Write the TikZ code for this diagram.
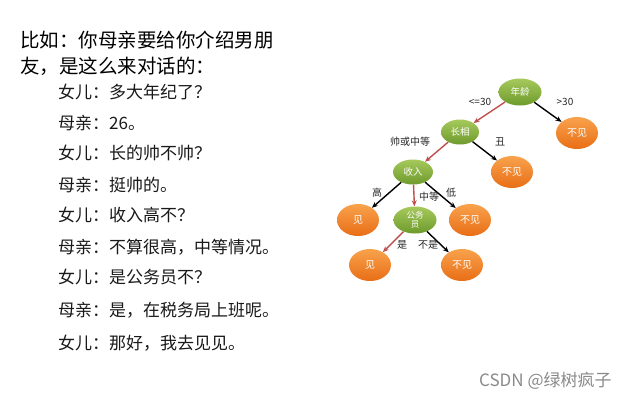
\documentclass[tikz,border=0pt]{standalone}
\usepackage{fontspec}
\setmainfont{Noto Sans CJK SC}
\newfontfamily\cjk{Noto Sans CJK SC}
\newfontfamily\latinsans{Liberation Sans}
\usetikzlibrary{shapes.geometric,arrows.meta}
\definecolor{gtop}{HTML}{A6C95C}
\definecolor{gbot}{HTML}{6E9A2C}
\definecolor{otop}{HTML}{F8A24C}
\definecolor{obot}{HTML}{E86E16}
\definecolor{redline}{HTML}{C0504D}
\definecolor{wm}{HTML}{8A8A8A}
\tikzset{
  gnode/.style={ellipse, top color=gtop, bottom color=gbot, draw=none, minimum width=41pt, minimum height=27pt, inner sep=0pt, text=white, font=\cjk\fontsize{9.5}{10}\selectfont, align=center},
  onode/.style={ellipse, top color=otop, bottom color=obot, draw=none, minimum width=42pt, minimum height=32pt, inner sep=0pt, text=white, font=\cjk\fontsize{10}{10}\selectfont},
  redarrow/.style={draw=redline, line width=1.4pt, -{Stealth[length=6pt,width=5pt]}},
  blkarrow/.style={draw=black, line width=1.4pt, -{Stealth[length=6pt,width=5pt]}},
  elabel/.style={font=\cjk\fontsize{10}{11}\selectfont, text=black!85, inner sep=0pt},
  title/.style={anchor=west, inner sep=0pt, font=\cjk\fontsize{19.5}{22}\selectfont},
  dialog/.style={anchor=west, inner sep=0pt, font=\cjk\fontsize{17}{19}\selectfont, text=black!90}
}
\begin{document}
\begin{tikzpicture}[x=1pt,y=-1pt]
\useasboundingbox (0,0) rectangle (631,400);
\fill[white] (0,0) rectangle (631,400);

% left text
\node[title] (t1) at (20,40) {比如：你母亲要给你介绍男朋};
\node[title] (t2) at (20,66) {友，是这么来对话的：};
\node[dialog] (d1) at (58,92) {女儿：多大年纪了？};
\node[dialog] (d2) at (58,123) {母亲：26。};
\node[dialog] (d3) at (58,153) {女儿：长的帅不帅？};
\node[dialog] (d4) at (58,185) {母亲：挺帅的。};
\node[dialog] (d5) at (58,215) {女儿：收入高不？};
\node[dialog] (d6) at (58,247) {母亲：不算很高，中等情况。};
\node[dialog] (d7) at (58,277) {女儿：是公务员不？};
\node[dialog] (d8) at (58,310) {母亲：是，在税务局上班呢。};
\node[dialog] (d9) at (58,343) {女儿：那好，我去见见。};

% tree nodes
\node[gnode, minimum width=43pt] (age) at (520,92) {年龄};
\node[onode] (no1) at (577,133) {不见};
\node[gnode, minimum width=38pt, minimum height=25pt] (look) at (460,132) {长相};
\node[onode] (no2) at (512,172) {不见};
\node[gnode, minimum width=40pt, minimum height=25pt] (income) at (413,172) {收入};
\node[onode] (yes1) at (358,220) {见};
\node[gnode, minimum width=43pt, font=\cjk\fontsize{8.5}{9.5}\selectfont] (civil) at (415,220) {公务\\员};
\node[onode] (no3) at (470,220) {不见};
\node[onode] (yes2) at (370,265) {见};
\node[onode] (no4) at (462,265) {不见};

% edges
\draw[redarrow] (age) -- (look);
\draw[blkarrow] (age) -- (no1);
\draw[redarrow] (look) -- (income);
\draw[blkarrow] (look) -- (no2);
\draw[blkarrow] (income) -- (yes1);
\draw[redarrow] (income) -- (civil);
\draw[blkarrow] (income) -- (no3);
\draw[redarrow] (civil) -- (yes2);
\draw[blkarrow] (civil) -- (no4);

% edge labels
\node[elabel] (l1) at (480,102) {<=30};
\node[elabel] (l2) at (565,102) {>30};
\node[elabel] (l3) at (410,142) {帅或中等};
\node[elabel] (l4) at (500,142) {丑};
\node[elabel] (l5) at (377,193) {高};
\node[elabel] (l6) at (429,197) {中等};
\node[elabel] (l7) at (451,193) {低};
\node[elabel] (l8) at (402,245) {是};
\node[elabel] (l9) at (428,245) {不是};

% watermark
\node[anchor=west, inner sep=0pt, text=wm, font=\cjk\fontsize{17}{19}\selectfont] (wmk) at (479,381) {CSDN @绿树疯子};
\end{tikzpicture}
\end{document}
